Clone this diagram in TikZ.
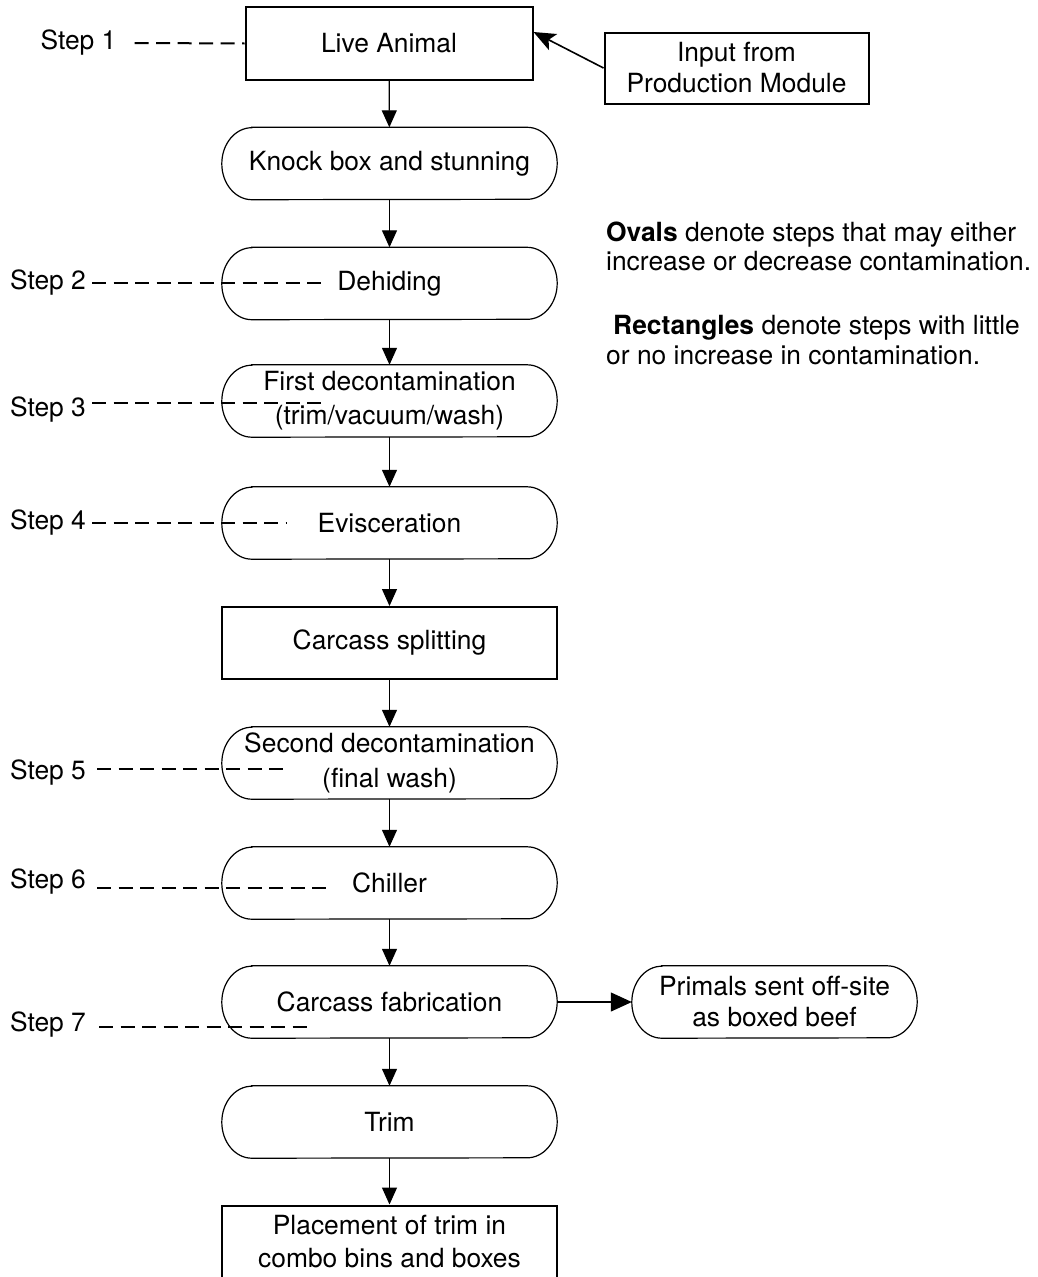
\documentclass[tikz,border=0pt]{standalone}
\usepackage{fontspec}
\setmainfont{TeX Gyre Heros}
\usetikzlibrary{arrows.meta,calc}
\tikzset{
  rectbox/.style={draw, line width=2pt, inner sep=0pt, align=center},
  ovalbox/.style={inner sep=0pt, align=center, minimum height=72pt},
  ovalline/.style={line width=1.2pt},
  arr/.style={line width=1.2pt, -{Triangle[length=17pt,width=15pt]}},
  sidearr/.style={line width=1.2pt, -{Triangle[length=21pt,width=19pt]}},
  inarr/.style={line width=1.6pt, -{Stealth[length=22pt,width=18pt,inset=5pt]}},
  steplbl/.style={inner sep=0pt},
  stepdash/.style={line width=2pt, dash pattern=on 14pt off 7.5pt},
}
\newcommand\myoval[1]{%
  \draw[ovalline] ([xshift=30pt]#1.north west) -- ([xshift=-30pt]#1.north east)
    arc[start angle=90,end angle=-90,x radius=30pt,y radius=36pt]
    -- ([xshift=30pt]#1.south west)
    arc[start angle=270,end angle=90,x radius=30pt,y radius=36pt] -- cycle;}
\begin{document}
\begin{tikzpicture}[x=1pt,y=-1pt,font=\fontsize{26.4pt}{33pt}\selectfont]
\fill[white] (0,0) rectangle (1037,1277);
\useasboundingbox (0,0) rectangle (1037,1277);

% main column
\node[rectbox, minimum width=287pt, minimum height=73pt] (live) at (389,43.5) {Live Animal};
\node[ovalbox, minimum width=335pt] (knock) at (389.5,163.5) {Knock box and stunning};
\node[ovalbox, minimum width=335pt] (dehide) at (389.5,283.5) {Dehiding};
\node[ovalbox, minimum width=335pt, font=\fontsize{26.4pt}{34pt}\selectfont] (first) at (389.5,401) {First decontamination\\(trim/vacuum/wash)};
\node[ovalbox, minimum width=335pt] (evis) at (389.5,523) {Evisceration};
\node[rectbox, minimum width=335pt, minimum height=72pt] (split) at (389.5,643) {Carcass splitting};
\node[ovalbox, minimum width=335pt, font=\fontsize{26.4pt}{35pt}\selectfont] (second) at (389.5,763) {Second decontamination\\(final wash)};
\node[ovalbox, minimum width=335pt] (chill) at (389.5,883) {Chiller};
\node[ovalbox, minimum width=335pt] (fab) at (389.5,1002) {Carcass fabrication};
\node[ovalbox, minimum width=335pt] (trim) at (389.5,1122) {Trim};
\node[rectbox, minimum width=335pt, minimum height=73pt] (place) at (389.5,1242) {Placement of trim in\\combo bins and boxes};

% side boxes
\node[rectbox, minimum width=264pt, minimum height=71pt, font=\fontsize{26.4pt}{31pt}\selectfont] (input) at (736.5,68) {Input from\\Production Module};
\node[ovalbox, minimum width=285pt, font=\fontsize{26.4pt}{31pt}\selectfont] (primals) at (774.5,1002) {Primals sent off-site\\as boxed beef};

\foreach \n in {knock,dehide,first,evis,second,chill,fab,trim,primals} {\myoval{\n}}

% flow arrows
\draw[arr] (live) -- (knock);
\draw[arr] (knock) -- (dehide);
\draw[arr] (dehide) -- (first);
\draw[arr] (first) -- (evis);
\draw[arr] (evis) -- (split);
\draw[arr] (split) -- (second);
\draw[arr] (second) -- (chill);
\draw[arr] (chill) -- (fab);
\draw[arr] (fab) -- (trim);
\draw[arr] (trim) -- (place);
\draw[sidearr] (fab.east) -- (primals.west);
\draw[inarr] (input.west) -- ([yshift=11.5pt]live.east);

% step labels
\node[steplbl] (s1) at (78.5,43) {Step 1};
\node[steplbl] (s2) at (48,283) {Step 2};
\node[steplbl] (s3) at (48,410) {Step 3};
\node[steplbl] (s4) at (48,523) {Step 4};
\node[steplbl] (s5) at (48,773) {Step 5};
\node[steplbl] (s6) at (48,882) {Step 6};
\node[steplbl] (s7) at (48,1025) {Step 7};

\coordinate (d2) at (323,283);
\coordinate (d3) at (323,403);
\coordinate (d4) at (286,523);
\coordinate (d5) at (288,769);
\coordinate (d6) at (332,888);
\coordinate (d7) at (312,1027);

\draw[stepdash] ([xshift=18pt]s1.east) -- (live.west);
\draw[stepdash] ([xshift=6pt]s2.east |- d2) -- (d2);
\draw[stepdash] ([xshift=6pt]s3.east |- d3) -- (d3);
\draw[stepdash] ([xshift=6pt]s4.east |- d4) -- (d4);
\draw[stepdash] ([xshift=11pt]s5.east |- d5) -- (d5);
\draw[stepdash] ([xshift=11pt]s6.east |- d6) -- (d6);
\draw[stepdash] ([xshift=13pt]s7.east |- d7) -- (d7);

% legend
\node[inner sep=0pt, anchor=west, align=left, font=\fontsize{26.4pt}{29.5pt}\selectfont] (leg1) at (606,246.5)
  {\textbf{Ovals} denote steps that may either\\increase or decrease contamination.};
\node[inner sep=0pt, anchor=west, align=left, font=\fontsize{26.4pt}{30pt}\selectfont] (leg2) at (606,340)
  {\hspace*{7pt}\textbf{Rectangles} denote steps with little\\or no increase in contamination.};
\end{tikzpicture}
\end{document}
